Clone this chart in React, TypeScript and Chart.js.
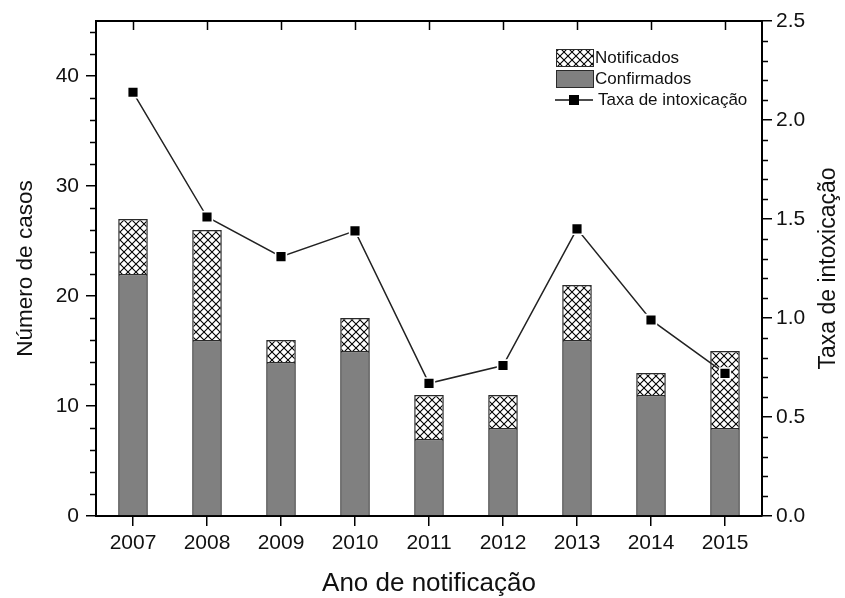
import React, { useEffect, useRef } from 'react';
import { Chart, registerables } from 'chart.js';

Chart.register(...registerables);

const years = ['2007', '2008', '2009', '2010', '2011', '2012', '2013', '2014', '2015'];
const notificados = [27, 26, 16, 18, 11, 11, 21, 13, 15];
const confirmados = [22, 16, 14, 15, 7, 8, 16, 11, 8];
const taxa = [2.14, 1.51, 1.31, 1.44, 0.67, 0.76, 1.45, 0.99, 0.72];

const leftMax = 45;
const leftMajor = 10;
const leftMinor = 2;
const rightMax = 2.5;
const rightMajor = 0.5;
const rightMinor = 0.1;

const FONT = "'Liberation Sans', Arial, sans-serif";
const GRAY = '#808080';
const EDGE = '#2a2a2a';

function makeHatch(): CanvasPattern | string {
  const c = document.createElement('canvas');
  c.width = 8;
  c.height = 8;
  const g = c.getContext('2d');
  if (!g) return '#fff';
  g.fillStyle = '#fff';
  g.fillRect(0, 0, 8, 8);
  g.strokeStyle = '#000';
  g.lineWidth = 1.1;
  g.beginPath();
  g.moveTo(-2, -2);
  g.lineTo(10, 10);
  g.moveTo(10, -2);
  g.lineTo(-2, 10);
  g.stroke();
  return g.createPattern(c, 'repeat') || '#fff';
}

export default function App() {
  const ref = useRef<HTMLCanvasElement | null>(null);

  useEffect(() => {
    if (!ref.current) return;
    const hatch = makeHatch();
    const diff = notificados.map((n, i) => n - confirmados[i]);

    const decor = {
      id: 'decor',
      afterDraw(chart: any) {
        const ctx = chart.ctx as CanvasRenderingContext2D;
        const ca = chart.chartArea;
        const x = chart.scales.x;
        const y = chart.scales.y;
        const y1 = chart.scales.y1;
        ctx.save();
        ctx.strokeStyle = '#000';
        ctx.lineWidth = 2;
        ctx.beginPath();
        ctx.moveTo(ca.left - 1, ca.top);
        ctx.lineTo(ca.right + 1, ca.top);
        ctx.stroke();
        ctx.lineWidth = 1.5;
        ctx.beginPath();
        years.forEach((_, i) => {
          const px = Math.round(x.getPixelForValue(i)) + 0.5;
          ctx.moveTo(px, ca.top);
          ctx.lineTo(px, ca.top + 9);
        });
        for (let v = 0; v <= leftMax; v += leftMinor) {
          if (v % leftMajor === 0) continue;
          const py = Math.round(y.getPixelForValue(v)) + 0.5;
          ctx.moveTo(ca.left - 6, py);
          ctx.lineTo(ca.left, py);
        }
        const nR = Math.round(rightMax / rightMinor);
        const per = Math.round(rightMajor / rightMinor);
        for (let i = 0; i <= nR; i++) {
          if (i % per === 0) continue;
          const py = Math.round(y1.getPixelForValue(i * rightMinor)) + 0.5;
          ctx.moveTo(ca.right, py);
          ctx.lineTo(ca.right + 6, py);
        }
        ctx.stroke();

        ctx.fillStyle = '#111';
        ctx.font = `23px ${FONT}`;
        ctx.textAlign = 'center';
        ctx.textBaseline = 'middle';
        ctx.translate(829, (ca.top + ca.bottom) / 2);
        ctx.rotate(-Math.PI / 2);
        ctx.fillText('Taxa de intoxicação', 0, 0);
        ctx.restore();

        ctx.save();
        const bx = ca.right - 206;
        const tx = bx + 39;
        ctx.font = `17px ${FONT}`;
        ctx.textAlign = 'left';
        ctx.textBaseline = 'middle';
        ctx.lineWidth = 1;
        ctx.strokeStyle = EDGE;
        ctx.fillStyle = hatch as any;
        ctx.fillRect(bx, ca.top + 28, 37, 17);
        ctx.strokeRect(bx + 0.5, ca.top + 28.5, 37, 17);
        ctx.fillStyle = '#111';
        ctx.fillText('Notificados', tx, ca.top + 37);
        ctx.fillStyle = GRAY;
        ctx.fillRect(bx, ca.top + 49, 37, 17);
        ctx.strokeRect(bx + 0.5, ca.top + 49.5, 37, 17);
        ctx.fillStyle = '#111';
        ctx.fillText('Confirmados', tx, ca.top + 58);
        const ly = ca.top + 79;
        ctx.strokeStyle = '#111';
        ctx.lineWidth = 1.5;
        ctx.beginPath();
        ctx.moveTo(bx - 1, ly);
        ctx.lineTo(bx + 37, ly);
        ctx.stroke();
        ctx.fillStyle = '#000';
        ctx.fillRect(bx + 18 - 5, ly - 5, 10, 10);
        ctx.fillStyle = '#111';
        ctx.fillText('Taxa de intoxicação', tx + 3, ly);
        ctx.restore();
      },
    };

    const chart = new Chart(ref.current, {
      type: 'bar',
      data: {
        labels: years,
        datasets: [
          {
            type: 'line',
            label: 'Taxa de intoxicação',
            data: taxa,
            yAxisID: 'y1',
            borderColor: '#222',
            borderWidth: 1.5,
            pointStyle: 'rect',
            pointRadius: 7.6,
            pointBackgroundColor: '#000',
            pointBorderColor: '#fff',
            pointBorderWidth: 1.6,
            tension: 0,
            order: 0,
          } as any,
          {
            type: 'bar',
            label: 'Confirmados',
            data: confirmados,
            yAxisID: 'y',
            backgroundColor: GRAY,
            borderColor: EDGE,
            borderWidth: 1.5,
            barPercentage: 0.4,
            categoryPercentage: 1,
            stack: 's',
            order: 1,
          },
          {
            type: 'bar',
            label: 'Notificados',
            data: diff,
            yAxisID: 'y',
            backgroundColor: hatch as any,
            borderColor: EDGE,
            borderWidth: 1.5,
            barPercentage: 0.4,
            categoryPercentage: 1,
            stack: 's',
            order: 1,
          },
        ],
      },
      options: {
        animation: false,
        responsive: true,
        maintainAspectRatio: false,
        layout: { padding: { top: 21, left: 0, right: 0, bottom: 0 } },
        plugins: {
          legend: { display: false },
          tooltip: { enabled: false },
        },
        scales: {
          x: {
            stacked: true,
            offset: true,
            afterFit: (s: any) => {
              s.height = 82;
            },
            grid: {
              offset: false,
              drawOnChartArea: false,
              drawTicks: true,
              tickLength: 10,
              color: '#000',
              lineWidth: 1.5,
            },
            border: { color: '#000', width: 2 },
            ticks: {
              color: '#111',
              font: { family: FONT, size: 21 },
              padding: 5,
              maxRotation: 0,
            },
            title: {
              display: true,
              text: 'Ano de notificação',
              color: '#111',
              font: { family: FONT, size: 26, lineHeight: 1 },
              padding: { top: 0, bottom: 1 },
            },
          },
          y: {
            type: 'linear',
            position: 'left',
            stacked: true,
            min: 0,
            max: leftMax,
            afterFit: (s: any) => {
              s.width = 96;
            },
            grid: {
              drawOnChartArea: false,
              drawTicks: true,
              tickLength: 10,
              lineWidth: 1.5,
              tickColor: (c: any) =>
                c.tick && c.tick.value % leftMajor === 0 ? '#000' : 'rgba(0,0,0,0)',
            },
            border: { color: '#000', width: 2 },
            ticks: {
              stepSize: leftMinor,
              autoSkip: false,
              color: '#111',
              font: { family: FONT, size: 21 },
              padding: 7,
              callback: (v: any) => (Number(v) % leftMajor === 0 ? String(v) : ''),
            },
            title: {
              display: true,
              text: 'Número de casos',
              color: '#111',
              font: { family: FONT, size: 22.5 },
              padding: { top: 12, bottom: 0 },
            },
          },
          y1: {
            type: 'linear',
            position: 'right',
            min: 0,
            max: rightMax,
            afterFit: (s: any) => {
              s.width = 83;
            },
            grid: {
              drawOnChartArea: false,
              drawTicks: true,
              tickLength: 10,
              lineWidth: 1.5,
              tickColor: (c: any) =>
                c.tick && Math.round(c.tick.value / rightMinor) % Math.round(rightMajor / rightMinor) === 0
                  ? '#000'
                  : 'rgba(0,0,0,0)',
            },
            border: { color: '#000', width: 2 },
            ticks: {
              stepSize: rightMinor,
              autoSkip: false,
              color: '#111',
              font: { family: FONT, size: 21 },
              padding: 4,
              callback: (v: any) =>
                Math.round(Number(v) / rightMinor) % Math.round(rightMajor / rightMinor) === 0
                  ? Number(v).toFixed(1)
                  : '',
            },
          },
        },
      },
      plugins: [decor],
    });

    return () => chart.destroy();
  }, []);

  return (
    <div style={{ position: 'absolute', left: 0, top: 0, width: 845, height: 598, background: '#fff' }}>
      <canvas ref={ref} />
    </div>
  );
}
